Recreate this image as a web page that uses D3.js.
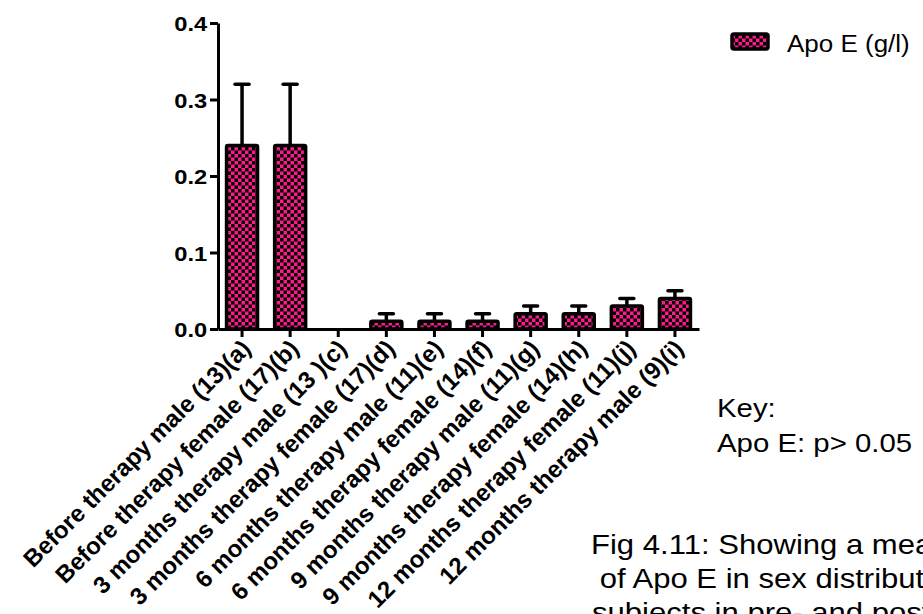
<!DOCTYPE html>
<html>
<head>
<meta charset="utf-8">
<script src="https://cdn.jsdelivr.net/npm/d3@7"></script>
<style>
  html, body { margin: 0; padding: 0; background: #fff; overflow: hidden; }
  svg { display: block; font-family: Arial, "Liberation Sans", sans-serif; }
</style>
</head>
<body>
<svg id="chart" width="923" height="614"></svg>
<script>
// Mean Apo E (g/l) by sex and therapy stage, with upward SEM bars
const categories = [
  "Before therapy male (13)(a)",
  "Before therapy female (17)(b)",
  "3 months therapy male (13 )(c)",
  "3 months therapy female (17)(d)",
  "6 months therapy male (11)(e)",
  "6 months therapy female (14)(f)",
  "9 months therapy male (11)(g)",
  "9 months therapy female (14)(h)",
  "12 months therapy female (11)(j)",
  "12 months therapy male (9)(i)"
];
const means  = [0.24, 0.24, 0, 0.01, 0.01, 0.01, 0.02, 0.02, 0.03, 0.04];
const errors = [0.08, 0.08, 0, 0.01, 0.01, 0.01, 0.01, 0.01, 0.01, 0.01];
const yTicks = [0, 0.1, 0.2, 0.3, 0.4];
const seriesName = "Apo E (g/l)";
const keyLines = ["Key:", "Apo E: p> 0.05"];
const captionLines = [
  "Fig 4.11: Showing a mean",
  " of Apo E in sex distribution",
  "subjects in pre- and post-"
];

const PINK = "#ff1a8c";
const SX = 1.13; // horizontal text stretch

const svg = d3.select("#chart");

// checkerboard fill
const defs = svg.append("defs");
const cell = 3.5;
const pat = defs.append("pattern")
  .attr("id", "checker")
  .attr("patternUnits", "userSpaceOnUse")
  .attr("width", cell * 2).attr("height", cell * 2);
pat.append("rect").attr("width", cell * 2).attr("height", cell * 2).attr("fill", PINK);
pat.append("rect").attr("x", 0).attr("y", 0).attr("width", cell).attr("height", cell).attr("fill", "#000");
pat.append("rect").attr("x", cell).attr("y", cell).attr("width", cell).attr("height", cell).attr("fill", "#000");

const x = d3.scaleBand().domain(categories).range([218, 699]).padding(0);
const y = d3.scaleLinear().domain([0, 0.4]).range([329, 23]);

const data = categories.map((c, i) => ({ c, v: means[i], e: errors[i] }));

// error bars (drawn under the bars)
const eg = svg.append("g");
data.filter(d => d.v > 0).forEach(d => {
  const cx = x(d.c) + x.bandwidth() / 2;
  eg.append("line")
    .attr("x1", cx).attr("x2", cx)
    .attr("y1", y(d.v)).attr("y2", y(d.v + d.e))
    .attr("stroke", "#000").attr("stroke-width", 3.5);
  eg.append("line")
    .attr("x1", cx - 7).attr("x2", cx + 7)
    .attr("y1", y(d.v + d.e)).attr("y2", y(d.v + d.e))
    .attr("stroke", "#000").attr("stroke-width", 3.5)
    .attr("stroke-linecap", "round");
});

// bars
const bw = 31;
svg.append("g").selectAll("rect")
  .data(data.filter(d => d.v > 0))
  .join("rect")
  .attr("x", d => x(d.c) + x.bandwidth() / 2 - bw / 2)
  .attr("y", d => y(d.v))
  .attr("width", bw)
  .attr("height", d => y(0) - y(d.v))
  .attr("rx", 1.5)
  .attr("fill", "url(#checker)")
  .attr("stroke", "#000")
  .attr("stroke-width", 3.5);

// y axis
const yAxis = svg.append("g")
  .attr("transform", "translate(218,0)")
  .call(d3.axisLeft(y).tickValues(yTicks).tickFormat(d3.format(".1f")).tickSize(8).tickSizeOuter(0));
yAxis.select(".domain").attr("stroke-width", 3);
yAxis.selectAll(".tick line").attr("stroke-width", 3);
yAxis.selectAll(".tick text")
  .attr("x", -9.5)
  .attr("dy", "0.36em")
  .attr("transform", `scale(${SX},1)`)
  .attr("font-size", 21)
  .attr("font-weight", "bold")
  .attr("fill", "#000");

// x axis
const xAxis = svg.append("g")
  .attr("transform", "translate(0,329)")
  .call(d3.axisBottom(x).tickSize(8).tickSizeOuter(0));
xAxis.select(".domain").attr("stroke-width", 3);
xAxis.selectAll(".tick line").attr("stroke-width", 3);
xAxis.selectAll(".tick text").remove();

// rotated category labels
svg.append("g").selectAll("text")
  .data(categories)
  .join("text")
  .attr("text-anchor", "end")
  .attr("font-size", 24)
  .attr("font-weight", "bold")
  .attr("fill", "#000")
  .attr("transform", d => `translate(${x(d) + x.bandwidth() / 2 + 10},350) rotate(-45)`)
  .text(d => d);

// legend
const lg = svg.append("g");
lg.append("rect")
  .attr("x", 732).attr("y", 34).attr("width", 36).attr("height", 15)
  .attr("rx", 2)
  .attr("fill", "url(#checker)")
  .attr("stroke", "#000").attr("stroke-width", 3.5);
lg.append("text")
  .attr("transform", `translate(787,52) scale(${SX},1)`)
  .attr("font-size", 23)
  .attr("fill", "#000")
  .text(seriesName);

// key
svg.append("g").selectAll("text")
  .data(keyLines)
  .join("text")
  .attr("transform", (d, i) => `translate(717,${417 + i * 35}) scale(${SX},1)`)
  .attr("font-size", 26)
  .attr("fill", "#000")
  .text(d => d);

// caption
svg.append("g").selectAll("text")
  .data(captionLines)
  .join("text")
  .attr("transform", (d, i) => `translate(${[591, 591, 592][i]},${554 + i * 34}) scale(1.13,1)`)
  .attr("font-size", 27.5)
  .attr("fill", "#000")
  .attr("xml:space", "preserve")
  .style("white-space", "pre")
  .text(d => d);
</script>
</body>
</html>
